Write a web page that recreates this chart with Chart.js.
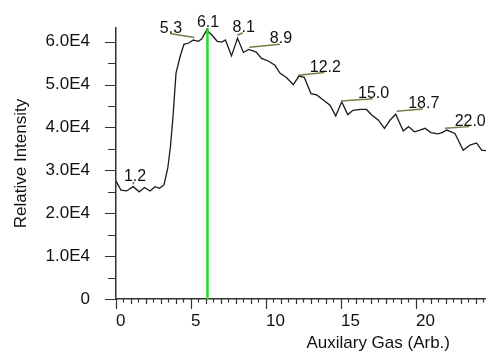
<!DOCTYPE html>
<html lang="en">

<head>
    <meta charset="UTF-8">
    <title>Relative Intensity vs Auxilary Gas</title>
    <script src="https://cdn.jsdelivr.net/npm/chart.js"></script>
    <style>
        body { margin: 0; background: #fff; }
    </style>
</head>

<body>

    <canvas id="gasChart" width="486" height="356"></canvas>

    <script>
        const gasValues = [0.0, 0.33, 0.7, 1.15, 1.55, 1.9, 2.27, 2.6, 2.9, 3.2, 3.45, 3.63, 3.8, 4.0, 4.27,
            4.53, 4.85, 5.15, 5.49, 5.71, 6.05, 6.4, 6.75, 7.05, 7.3, 7.7, 8.1, 8.5, 8.85, 9.35, 9.7, 10.15,
            10.6, 10.93, 11.38, 11.82, 12.2, 12.55, 13.0, 13.38, 13.82, 14.27, 14.65, 15.05, 15.45, 15.8,
            16.3, 16.7, 17.05, 17.5, 17.9, 18.27, 18.65, 19.15, 19.5, 19.9, 20.27, 20.6, 21.0, 21.45, 21.75,
            22.05, 22.6, 23.15, 23.6, 24.04, 24.38, 24.67];
        const intensity = [27500, 25400, 25200, 26200, 25000, 26000, 25200, 26200, 25800, 26600, 30500, 35500,
            42500, 52600, 56500, 59400, 59700, 60400, 60100, 60600, 62700, 61500, 60100, 59900, 60400, 56700,
            60800, 57500, 58200, 57600, 56100, 55500, 54500, 52700, 51600, 50000, 52000, 51700, 47900, 47600,
            46400, 45200, 42700, 46000, 43000, 44000, 44200, 44200, 42900, 41700, 39800, 41700, 43100, 39200,
            40200, 39000, 39400, 39800, 38800, 38500, 38800, 39400, 38600, 34700, 35900, 36400, 34700, 34600];

        // Axis ticks
        const xTickValues = [0, 5, 10, 15, 20];
        const yTickValues = [0, 10000, 20000, 30000, 40000, 50000, 60000];
        const yTickLabels = ['0', '1.0E4', '2.0E4', '3.0E4', '4.0E4', '5.0E4', '6.0E4'];

        // Marked optimum
        const markerGas = 6.1;

        // Peak annotations: label text, leader start (on the trace) and leader end (under the label)
        const peakLabels = ['1.2', '5.3', '6.1', '8.1', '8.9', '12.2', '15.0', '18.7', '22.0'];
        const leaderFromX = [1.13, 5.22, 6.07, 8.09, 8.89, 12.15, 15.0, 18.71, 21.93];
        const leaderFromY = [26800, 61000, 62700, 61500, 58700, 52200, 46200, 43800, 39800];
        const leaderToX = [1.2, 3.6, 6.07, 8.45, 10.93, 13.89, 17.11, 20.45, 23.55];
        const leaderToY = [27300, 61900, 63200, 62100, 59400, 52800, 46700, 44300, 40200];

        const xMax = 24.67;
        const yMax = 63200;

        const fontFamily = '"Liberation Sans", Arial, sans-serif';

        // Draws minor ticks, peak labels and the x axis title
        const extrasPlugin = {
            id: 'extras',
            afterDatasetsDraw(chart) {
                const ctx = chart.ctx;
                const xs = chart.scales.x;
                const ys = chart.scales.y;
                ctx.save();

                // tick marks
                ctx.strokeStyle = '#333';
                ctx.lineWidth = 1.2;
                ctx.beginPath();
                for (let v = 0; v <= xMax + 0.001; v += 0.5) {
                    const px = Math.round(xs.getPixelForValue(v)) + 0.5;
                    const len = v % 5 === 0 ? 10 : (v % 1 === 0 ? 5 : 3.5);
                    ctx.moveTo(px, ys.bottom);
                    ctx.lineTo(px, ys.bottom + len);
                }
                for (let v = 0; v <= yMax; v += 5000) {
                    const py = Math.round(ys.getPixelForValue(v)) + 0.5;
                    const len = v % 10000 === 0 ? 11 : 8;
                    ctx.moveTo(xs.left - len, py);
                    ctx.lineTo(xs.left, py);
                }
                ctx.stroke();

                // peak labels
                ctx.font = '16px ' + fontFamily;
                ctx.textAlign = 'center';
                ctx.textBaseline = 'alphabetic';
                for (let i = 0; i < peakLabels.length; i++) {
                    const x1 = xs.getPixelForValue(leaderFromX[i]);
                    const y1 = ys.getPixelForValue(leaderFromY[i]);
                    const x2 = xs.getPixelForValue(leaderToX[i]);
                    const y2 = ys.getPixelForValue(leaderToY[i]);
                    ctx.strokeStyle = '#6f8048';
                    ctx.lineWidth = 1.5;
                    ctx.beginPath();
                    ctx.moveTo(x1, y1);
                    ctx.lineTo(x2, y2);
                    ctx.stroke();
                    ctx.fillStyle = '#111';
                    ctx.fillText(peakLabels[i], x2 + 1, y2 - 1);
                }

                // x axis title
                ctx.font = '17px ' + fontFamily;
                ctx.textAlign = 'right';
                ctx.textBaseline = 'middle';
                ctx.fillText('Auxilary Gas (Arb.)', xs.right - 36, ys.bottom + 44);
                ctx.restore();
            }
        };

        function noLabelPadding(s) {
            s.paddingTop = 0;
            s.paddingBottom = 0;
            s.paddingLeft = 0;
            s.paddingRight = 0;
        }

        const ctx = document.getElementById('gasChart').getContext('2d');
        new Chart(ctx, {
            type: 'line',
            data: {
                datasets: [{
                    data: [{ x: markerGas, y: 0 }, { x: markerGas, y: yMax }],
                    borderColor: '#1ee01e',
                    borderWidth: 2.5,
                    pointRadius: 0,
                    order: 0
                }, {
                    data: gasValues.map((g, i) => ({ x: g, y: intensity[i] })),
                    borderColor: '#1a1a1a',
                    borderWidth: 1.3,
                    pointRadius: 0,
                    tension: 0,
                    order: 1
                }]
            },
            options: {
                responsive: false,
                animation: false,
                layout: { padding: { top: 28, left: 0, right: 0, bottom: 0 } },
                plugins: {
                    legend: { display: false },
                    tooltip: { enabled: false }
                },
                scales: {
                    x: {
                        type: 'linear',
                        min: 0,
                        max: xMax,
                        grid: { display: false, drawTicks: false },
                        border: { color: '#333', width: 1.5 },
                        afterBuildTicks: s => { s.ticks = xTickValues.map(v => ({ value: v })); },
                        afterFit: s => { s.height = 57; noLabelPadding(s); },
                        ticks: {
                            align: 'start',
                            padding: 12,
                            maxRotation: 0,
                            autoSkip: false,
                            color: '#111',
                            font: { size: 17, family: fontFamily }
                        }
                    },
                    y: {
                        min: 0,
                        max: yMax,
                        grid: { display: false, drawTicks: false },
                        border: { color: '#333', width: 1.5 },
                        afterBuildTicks: s => { s.ticks = yTickValues.map(v => ({ value: v })); },
                        afterFit: s => { s.width = 116; noLabelPadding(s); },
                        title: {
                            display: true,
                            text: 'Relative Intensity',
                            color: '#111',
                            padding: { top: 11 },
                            font: { size: 17, family: fontFamily }
                        },
                        ticks: {
                            autoSkip: false,
                            padding: 26,
                            color: '#111',
                            font: { size: 17, family: fontFamily },
                            callback: (v, i) => yTickLabels[i]
                        }
                    }
                }
            },
            plugins: [extrasPlugin]
        });
    </script>

</body>

</html>
